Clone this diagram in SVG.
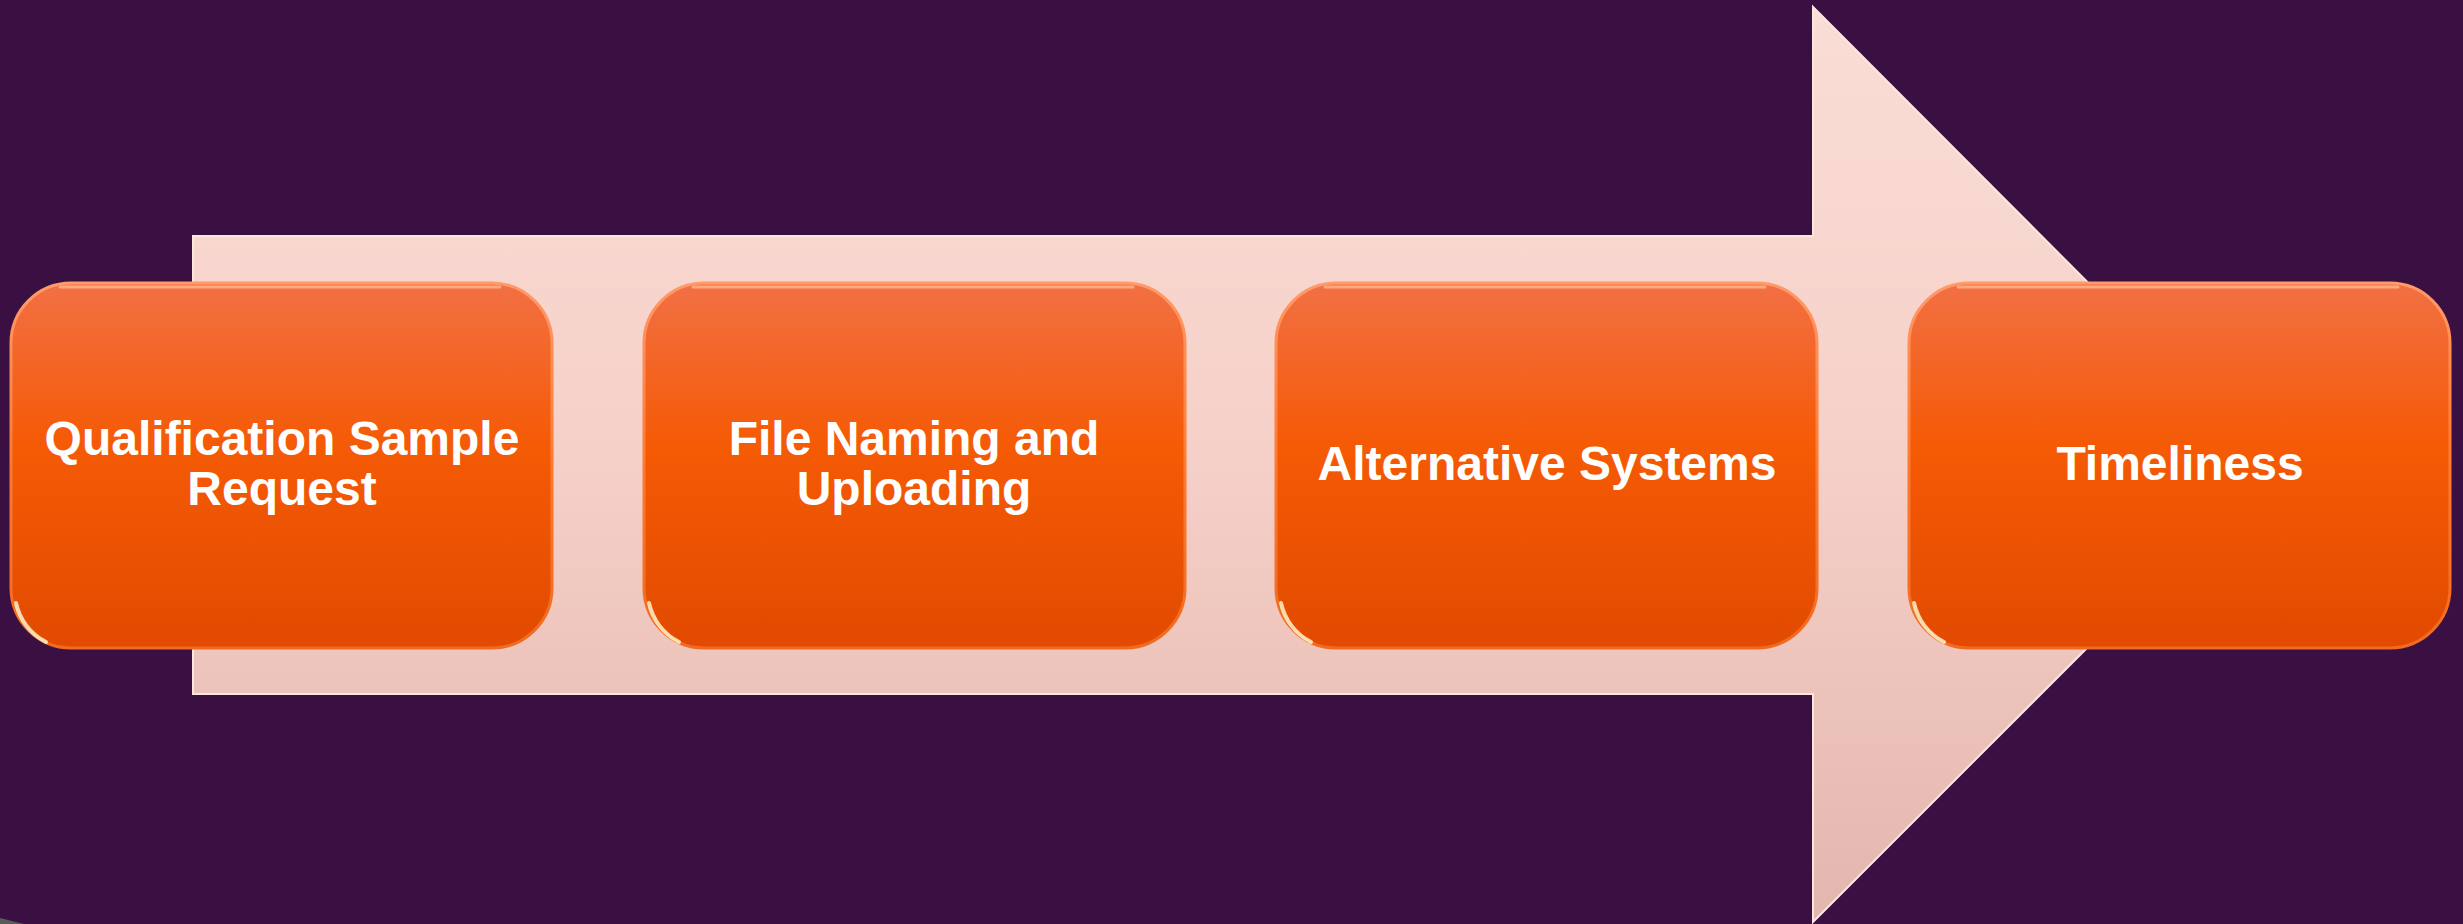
<svg xmlns="http://www.w3.org/2000/svg" width="2463" height="924" viewBox="0 0 2463 924">
  <defs>
    <linearGradient id="arrowGrad" x1="0" y1="0" x2="0" y2="1">
      <stop offset="0" stop-color="#FADDD6"/>
      <stop offset="0.5" stop-color="#F5D0C8"/>
      <stop offset="1" stop-color="#E3B6AE"/>
    </linearGradient>
    <linearGradient id="boxGrad" x1="0" y1="0" x2="0" y2="1">
      <stop offset="0" stop-color="#F27044"/>
      <stop offset="0.45" stop-color="#F55A05"/>
      <stop offset="1" stop-color="#E14A00"/>
    </linearGradient>
    <linearGradient id="rimGrad" x1="0" y1="0" x2="0" y2="1">
      <stop offset="0" stop-color="#FF9A6A"/>
      <stop offset="0.5" stop-color="#FF7A30"/>
      <stop offset="1" stop-color="#F06A20"/>
    </linearGradient>
  </defs>
  <style>
    .bg { fill: #3A0F42; }
    .box { fill: url(#boxGrad); stroke: url(#rimGrad); stroke-width: 3; }
    .hl { fill: none; stroke: #FFF2C8; stroke-width: 4; stroke-linecap: round; opacity: 0.85; }
    .top { fill: none; stroke: #FFB890; stroke-width: 3; stroke-linecap: round; opacity: 0.8; }
    .label { font-family: "Liberation Sans", Arial, sans-serif; font-weight: bold; font-size: 48px; fill: #FFFFFF; text-anchor: middle; }
  </style>

  <rect class="bg" x="0" y="0" width="2463" height="924"/>
  <path d="M0,918 L0,924 L24,924 Z" fill="#5a5a5a"/>

  <g id="connectors">
    <path id="bigArrow" d="M193,236 L1813,236 L1813,7 L2270,465 L1813,922 L1813,694 L193,694 Z" fill="url(#arrowGrad)" stroke="#FBE6E0" stroke-width="2"/>
  </g>

  <g id="node1">
    <rect class="box" x="11" y="283" width="541" height="365" rx="60" ry="60"/>
    <path class="top" d="M60,287 L500,287"/>
    <path class="hl" d="M16,603 A57 57 0 0 0 46,642"/>
    <text class="label" x="282" y="455">Qualification Sample</text>
    <text class="label" x="282" y="505">Request</text>
  </g>

  <g id="node2">
    <rect class="box" x="644" y="283" width="541" height="365" rx="60" ry="60"/>
    <path class="top" d="M693,287 L1133,287"/>
    <path class="hl" d="M649,603 A57 57 0 0 0 679,642"/>
    <text class="label" x="914" y="455">File Naming and</text>
    <text class="label" x="914" y="505">Uploading</text>
  </g>

  <g id="node3">
    <rect class="box" x="1276" y="283" width="541" height="365" rx="60" ry="60"/>
    <path class="top" d="M1325,287 L1765,287"/>
    <path class="hl" d="M1281,603 A57 57 0 0 0 1311,642"/>
    <text class="label" x="1547" y="480">Alternative Systems</text>
  </g>

  <g id="node4">
    <rect class="box" x="1909" y="283" width="541" height="365" rx="60" ry="60"/>
    <path class="top" d="M1958,287 L2398,287"/>
    <path class="hl" d="M1914,603 A57 57 0 0 0 1944,642"/>
    <text class="label" x="2180" y="480">Timeliness</text>
  </g>
</svg>
